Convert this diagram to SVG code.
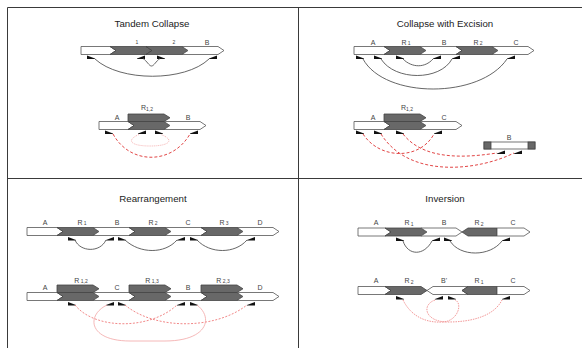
<svg xmlns="http://www.w3.org/2000/svg" width="582" height="348" viewBox="0 0 582 348">
<style>
.frame{stroke:#3a3a3a;stroke-width:1;fill:none}
.title{font-family:"Liberation Sans",Arial,sans-serif;font-size:9.7px;fill:#222;text-anchor:middle}
.lbl{font-family:"Liberation Sans",Arial,sans-serif;font-size:7px;fill:#444;text-anchor:middle}
.sub{font-size:5px}
.w{fill:#fff;stroke:#555;stroke-width:0.8;stroke-linejoin:miter}
.g{fill:#686868;stroke:#444;stroke-width:0.8}
.c{fill:none;stroke:#555;stroke-width:0.9}
.rd{fill:none;stroke:#e24646;stroke-width:1;stroke-dasharray:3,2}
.rdot{fill:none;stroke:#f2a0a0;stroke-width:0.8;stroke-dasharray:1,1}
.rl{fill:none;stroke:#ef7a7a;stroke-width:0.9;stroke-dasharray:2,1.5}
.rs{fill:none;stroke:#f2a6a6;stroke-width:0.8}
.rv{fill:none;stroke:#f08c8c;stroke-width:0.9;stroke-dasharray:1.5,1}
.p{fill:#111}
</style>
<defs>
<path id="pf" class="p" d="M0,-2 L8,1 L8,1.6 L0,1.6 Z"/>
<path id="pr" class="p" d="M8,-2 L0,1 L0,1.6 L8,1.6 Z"/>
</defs>
<g id="frame">
<line class="frame" x1="7.5" y1="7.5" x2="582" y2="7.5"/>
<line class="frame" x1="7.5" y1="7.5" x2="7.5" y2="348"/>
<line class="frame" x1="298.5" y1="7.5" x2="298.5" y2="348"/>
<line class="frame" x1="7.5" y1="178.5" x2="582" y2="178.5"/>
</g>
<g id="titles">
<text class="title" x="152" y="26.5">Tandem Collapse</text>
<text class="title" x="445" y="26.5">Collapse with Excision</text>
<text class="title" x="153" y="201.5">Rearrangement</text>
<text class="title" x="445" y="201.5">Inversion</text>
</g>

<!-- Tandem Collapse -->
<g id="tc-top">
<polygon class="w" points="81,46.5 110,46.5 116,50.5 110,54.5 81,54.5"/>
<polygon class="g" points="110,46.5 146,46.5 152,50.5 146,54.5 110,54.5 116,50.5"/>
<polygon class="g" points="146,46.5 182,46.5 188,50.5 182,54.5 146,54.5 152,50.5"/>
<polygon class="w" points="182,46.5 218,46.5 224,50.5 218,54.5 182,54.5 188,50.5"/>
<text class="lbl sub" x="137" y="44">1</text>
<text class="lbl sub" x="174" y="44">2</text>
<text class="lbl" x="207" y="44.5">B</text>
<use href="#pf" x="87" y="57.5"/><use href="#pr" x="137" y="57.5"/>
<use href="#pf" x="157" y="57.5"/><use href="#pr" x="209" y="57.5"/>
</g>
<g id="tc-bottom">
<polygon class="w" points="99,121.5 128,121.5 134,125.5 128,129.5 99,129.5"/>
<polygon class="g" points="128,114 164,114 170,117.75 164,121.5 128,121.5"/>
<polygon class="g" points="128,121.5 164,121.5 170,125.5 164,129.5 128,129.5 134,125.5"/>
<polygon class="w" points="164,121.5 200,121.5 206,125.5 200,129.5 164,129.5 170,125.5"/>
<text class="lbl" x="117" y="119.5">A</text>
<text class="lbl" x="147" y="110">R<tspan class="sub" dy="1">1,2</tspan></text>
<text class="lbl" x="188" y="119.5">B</text>
<use href="#pf" x="105" y="132.5"/><use href="#pr" x="138" y="132.5"/>
<use href="#pf" x="155" y="132.5"/><use href="#pr" x="190" y="132.5"/>
</g>

<!-- Collapse with Excision -->
<g id="ce-top">
<polygon class="w" points="354,46.5 384,46.5 390,50.5 384,54.5 354,54.5"/>
<polygon class="g" points="384,46.5 420,46.5 426,50.5 420,54.5 384,54.5 390,50.5"/>
<polygon class="w" points="420,46.5 456,46.5 462,50.5 456,54.5 420,54.5 426,50.5"/>
<polygon class="g" points="456,46.5 492,46.5 498,50.5 492,54.5 456,54.5 462,50.5"/>
<polygon class="w" points="492,46.5 528,46.5 534,50.5 528,54.5 492,54.5 498,50.5"/>
<text class="lbl" x="373" y="44.5">A</text>
<text class="lbl" x="406" y="44.5">R<tspan class="sub" dy="0.5"> 1</tspan></text>
<text class="lbl" x="444" y="44.5">B</text>
<text class="lbl" x="478" y="44.5">R<tspan class="sub" dy="0.5"> 2</tspan></text>
<text class="lbl" x="516" y="44.5">C</text>
<use href="#pf" x="356" y="57.5"/><use href="#pf" x="374" y="57.5"/><use href="#pf" x="396" y="57.5"/>
<use href="#pr" x="433" y="57.5"/><use href="#pr" x="452" y="57.5"/><use href="#pr" x="507" y="57.5"/>
</g>
<g id="ce-bottom">
<polygon class="w" points="354,121.5 384,121.5 390,125.5 384,129.5 354,129.5"/>
<polygon class="g" points="384,114 420,114 426,117.75 420,121.5 384,121.5"/>
<polygon class="g" points="384,121.5 420,121.5 426,125.5 420,129.5 384,129.5 390,125.5"/>
<polygon class="w" points="420,121.5 456,121.5 462,125.5 456,129.5 420,129.5 426,125.5"/>
<text class="lbl" x="373" y="119.5">A</text>
<text class="lbl" x="407" y="110">R<tspan class="sub" dy="1">1,2</tspan></text>
<text class="lbl" x="444" y="119.5">C</text>
<use href="#pf" x="356" y="132.5"/><use href="#pf" x="374" y="132.5"/><use href="#pf" x="396" y="132.5"/>
<use href="#pr" x="434" y="132.5"/>
</g>
<g id="ce-excised">
<rect class="w" x="484" y="142" width="51" height="7"/>
<rect class="g" x="484" y="142" width="7" height="7"/>
<rect class="g" x="528" y="142" width="7" height="7"/>
<text class="lbl" x="509" y="139.5">B</text>
<use href="#pr" x="497" y="152.5"/><use href="#pr" x="514" y="152.5"/>
</g>

<!-- Rearrangement -->
<g id="ra-top">
<polygon class="w" points="27,227.5 57,227.5 63,231.5 57,235.5 27,235.5"/>
<polygon class="g" points="57,227.5 93,227.5 99,231.5 93,235.5 57,235.5 63,231.5"/>
<polygon class="w" points="93,227.5 129,227.5 135,231.5 129,235.5 93,235.5 99,231.5"/>
<polygon class="g" points="129,227.5 165,227.5 171,231.5 165,235.5 129,235.5 135,231.5"/>
<polygon class="w" points="165,227.5 201,227.5 207,231.5 201,235.5 165,235.5 171,231.5"/>
<polygon class="g" points="201,227.5 237,227.5 243,231.5 237,235.5 201,235.5 207,231.5"/>
<polygon class="w" points="237,227.5 273,227.5 279,231.5 273,235.5 237,235.5 243,231.5"/>
<text class="lbl" x="45" y="224.5">A</text>
<text class="lbl" x="82" y="224.5">R<tspan class="sub" dy="0.5"> 1</tspan></text>
<text class="lbl" x="117" y="224.5">B</text>
<text class="lbl" x="153" y="224.5">R<tspan class="sub" dy="0.5"> 2</tspan></text>
<text class="lbl" x="188" y="224.5">C</text>
<text class="lbl" x="224" y="224.5">R<tspan class="sub" dy="0.5"> 3</tspan></text>
<text class="lbl" x="260" y="224.5">D</text>
<use href="#pf" x="68" y="239"/><use href="#pr" x="106" y="239"/><use href="#pf" x="118" y="239"/>
<use href="#pr" x="177" y="239"/><use href="#pf" x="190" y="239"/><use href="#pr" x="247" y="239"/>
</g>
<g id="ra-bottom">
<polygon class="w" points="27,292.5 57,292.5 63,296.5 57,300.5 27,300.5"/>
<polygon class="g" points="57,285 93,285 99,288.75 93,292.5 57,292.5"/>
<polygon class="g" points="57,292.5 93,292.5 99,296.5 93,300.5 57,300.5 63,296.5"/>
<polygon class="w" points="93,292.5 129,292.5 135,296.5 129,300.5 93,300.5 99,296.5"/>
<polygon class="g" points="129,285 165,285 171,288.75 165,292.5 129,292.5"/>
<polygon class="g" points="129,292.5 165,292.5 171,296.5 165,300.5 129,300.5 135,296.5"/>
<polygon class="w" points="165,292.5 201,292.5 207,296.5 201,300.5 165,300.5 171,296.5"/>
<polygon class="g" points="201,285 237,285 243,288.75 237,292.5 201,292.5"/>
<polygon class="g" points="201,292.5 237,292.5 243,296.5 237,300.5 201,300.5 207,296.5"/>
<polygon class="w" points="237,292.5 273,292.5 279,296.5 273,300.5 237,300.5 243,296.5"/>
<text class="lbl" x="45" y="289.5">A</text>
<text class="lbl" x="81" y="282.5">R<tspan class="sub" dy="0.5"> 1,2</tspan></text>
<text class="lbl" x="117" y="289.5">C</text>
<text class="lbl" x="152" y="282.5">R<tspan class="sub" dy="0.5"> 1,3</tspan></text>
<text class="lbl" x="188" y="289.5">B</text>
<text class="lbl" x="223" y="282.5">R<tspan class="sub" dy="0.5"> 2,3</tspan></text>
<text class="lbl" x="260" y="289.5">D</text>
<use href="#pf" x="68" y="304"/><use href="#pr" x="106" y="304"/><use href="#pf" x="118" y="304"/>
<use href="#pr" x="177" y="304"/><use href="#pf" x="190" y="304"/><use href="#pr" x="247" y="304"/>
</g>

<!-- Inversion -->
<g id="in-top">
<polygon class="w" points="358,228 385,228 391,232 385,236 358,236"/>
<polygon class="g" points="385,228 421,228 427,232 421,236 385,236 391,232"/>
<polygon class="w" points="421,228 456,228 462,232 456,236 421,236 427,232"/>
<polygon class="g" points="462,232 468,228 497,228 497,236 468,236"/>
<polygon class="w" points="497,228 524,228 530,232 524,236 497,236"/>
<text class="lbl" x="376" y="225">A</text>
<text class="lbl" x="409" y="225">R<tspan class="sub" dy="0.5"> 1</tspan></text>
<text class="lbl" x="444" y="225">B</text>
<text class="lbl" x="479" y="225">R<tspan class="sub" dy="0.5"> 2</tspan></text>
<text class="lbl" x="513" y="225">C</text>
<use href="#pf" x="396" y="239.5"/><use href="#pr" x="432" y="239.5"/>
<use href="#pf" x="444" y="239.5"/><use href="#pr" x="502" y="239.5"/>
</g>
<g id="in-bottom">
<polygon class="w" points="358,286.5 385,286.5 391,290.5 385,294.5 358,294.5"/>
<polygon class="g" points="385,286.5 421,286.5 427,290.5 421,294.5 385,294.5 391,290.5"/>
<polygon class="w" points="427,290.5 433,286.5 468,286.5 462,290.5 468,294.5 433,294.5"/>
<polygon class="g" points="462,290.5 468,286.5 497,286.5 497,294.5 468,294.5"/>
<polygon class="w" points="497,286.5 524,286.5 530,290.5 524,294.5 497,294.5"/>
<text class="lbl" x="376" y="283">A</text>
<text class="lbl" x="409" y="283">R<tspan class="sub" dy="0.5"> 2</tspan></text>
<text class="lbl" x="444" y="283">B'</text>
<text class="lbl" x="479" y="283">R<tspan class="sub" dy="0.5"> 1</tspan></text>
<text class="lbl" x="513" y="283">C</text>
<use href="#pf" x="396" y="298"/><use href="#pr" x="435" y="298"/>
<use href="#pf" x="448" y="298"/><use href="#pr" x="502" y="298"/>
</g>

<g id="connectors">
<path class="c" d="M95,59 C120,82 185,82 209,59"/>
<path class="c" d="M143,58.5 C147,61 149,66 151.5,66 C154,66 156,61 160,58.5"/>
<path class="rd" d="M113,134 C130,165 172,165 190,134"/>
<path class="rdot" d="M139,134.5 C126,140 130,146 150,146 C170,146 175,140 161,134.5"/>

<path class="c" d="M363,59 C385,99 480,99 507,59"/>
<path class="c" d="M381,59 C395,81 440,81 452,59"/>
<path class="c" d="M403,59 C412,68 425,68 433,59"/>
<path class="rd" d="M363,134 C380,160 420,160 434,134"/>
<path class="rd" d="M403,134 C425,162 470,157 497,153"/>
<path class="rd" d="M381,134 C410,180 480,170 514,153"/>

<path class="c" d="M75,240 C80,252 100,253 106,240"/>
<path class="c" d="M125,240 C140,254 165,254 177,240"/>
<path class="c" d="M197,240 C210,254 235,254 247,240"/>
<path class="rl" d="M75,305 C95,330 150,330 177,305"/>
<path class="rl" d="M125,305 C155,330 215,330 247,305"/>
<path class="rs" d="M107,305 C86,315 88,341 130,341 L165,341 C207,341 214,318 197,305"/>

<path class="c" d="M403,241 C408,256 424,256 432,241"/>
<path class="c" d="M450,241 C460,257 490,257 502,241"/>
<path class="rv" d="M403,300 C412,318 428,323 443,322 C458,321 463,303 455,300"/>
<path class="rv" d="M435,300 C421,305 425,322 448,322 C472,322 494,316 502,300"/>
</g>
</svg>
